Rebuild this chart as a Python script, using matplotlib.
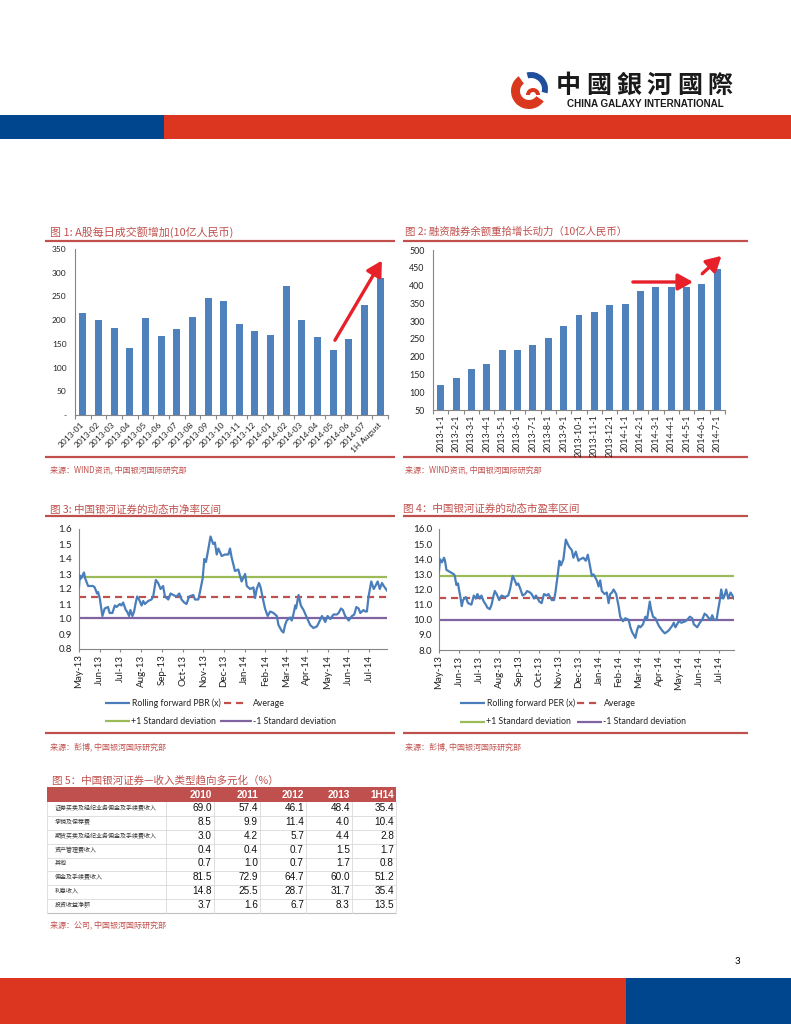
import matplotlib
matplotlib.use('Agg')
import matplotlib.pyplot as plt
import numpy as np
from matplotlib.patches import Rectangle, Wedge
from matplotlib.ticker import FuncFormatter, FormatStrFormatter

plt.rcParams['font.family'] = ['Noto Sans CJK SC', 'DejaVu Sans']

# ---------------- data ----------------
vol_labels = ['2013-01', '2013-02', '2013-03', '2013-04', '2013-05', '2013-06', '2013-07',
              '2013-08', '2013-09', '2013-10', '2013-11', '2013-12', '2014-01', '2014-02',
              '2014-03', '2014-04', '2014-05', '2014-06', '2014-07', '1H August']
vol_values = [215, 201, 184, 142, 204, 166, 181, 206, 246, 241, 191, 178, 169, 273,
              201, 165, 137, 160, 231, 289]

margin_labels = ['2013-1-1', '2013-2-1', '2013-3-1', '2013-4-1', '2013-5-1', '2013-6-1',
                 '2013-7-1', '2013-8-1', '2013-9-1', '2013-10-1', '2013-11-1', '2013-12-1',
                 '2014-1-1', '2014-2-1', '2014-3-1', '2014-4-1', '2014-5-1', '2014-6-1',
                 '2014-7-1']
margin_values = [120, 140, 164, 178, 220, 220, 233, 253, 286, 316, 327, 346,
                 348, 385, 396, 396, 396, 405, 446]

month_labels = ['May-13', 'Jun-13', 'Jul-13', 'Aug-13', 'Sep-13', 'Oct-13', 'Nov-13',
                'Dec-13', 'Jan-14', 'Feb-14', 'Mar-14', 'Apr-14', 'May-14', 'Jun-14', 'Jul-14']

# time in months since 1 May 2013
pbr_t = [0, 0.04, 0.1, 0.24, 0.3, 0.44, 0.68, 0.76, 0.87, 0.92,
         1.0, 1.13, 1.24, 1.40, 1.48, 1.61, 1.73, 1.81, 1.97, 2.05,
         2.13, 2.26, 2.32, 2.42, 2.48, 2.58, 2.66, 2.74, 2.81, 2.90,
         3.02, 3.10, 3.18, 3.34, 3.50, 3.58, 3.71, 3.82, 3.94, 4.06,
         4.15, 4.31, 4.42, 4.55, 4.71, 4.84, 4.95, 5.08, 5.19, 5.32,
         5.52, 5.60, 5.76, 5.84, 5.97, 6.05, 6.13, 6.21, 6.35, 6.48,
         6.56, 6.65, 6.73, 6.89, 7.05, 7.21, 7.29, 7.37, 7.53, 7.69,
         7.85, 8.02, 8.10, 8.26, 8.42, 8.50, 8.58, 8.69, 8.77, 8.87,
         8.98, 9.11, 9.23, 9.39, 9.55, 9.63, 9.79, 9.87, 9.95, 10.03,
         10.19, 10.27, 10.35, 10.44, 10.48, 10.60, 10.71, 10.84, 11.0, 11.16,
         11.32, 11.48, 11.56, 11.73, 11.89, 12.0, 12.13, 12.29, 12.45, 12.53,
         12.65, 12.74, 12.85, 13.02, 13.18, 13.29, 13.39, 13.5, 13.58, 13.74,
         13.82, 13.9, 13.98, 14.11, 14.23, 14.31, 14.42, 14.52, 14.63, 14.71,
         14.87]
pbr_v = [1.21, 1.29, 1.27, 1.31, 1.27, 1.22, 1.22, 1.21, 1.17, 1.18,
         1.14, 1.02, 1.07, 1.08, 1.04, 1.04, 1.09, 1.08, 1.10, 1.09,
         1.11, 1.06, 1.05, 1.02, 1.06, 1.02, 1.05, 1.11, 1.15, 1.13,
         1.09, 1.12, 1.10, 1.12, 1.13, 1.15, 1.26, 1.24, 1.20, 1.22,
         1.15, 1.13, 1.17, 1.16, 1.15, 1.17, 1.13, 1.11, 1.10, 1.15,
         1.16, 1.13, 1.13, 1.18, 1.27, 1.40, 1.38, 1.44, 1.55, 1.50,
         1.51, 1.43, 1.47, 1.42, 1.43, 1.43, 1.47, 1.41, 1.32, 1.33,
         1.25, 1.30, 1.22, 1.20, 1.21, 1.14, 1.20, 1.24, 1.21, 1.14,
         1.07, 1.02, 1.05, 1.04, 1.02, 0.96, 0.92, 0.91, 0.96, 0.99,
         1.01, 0.99, 1.03, 1.09, 1.07, 1.16, 1.09, 1.06, 1.01, 0.96,
         0.94, 0.95, 0.97, 1.02, 0.98, 1.02, 1.00, 1.03, 1.03, 1.04,
         1.07, 1.06, 1.02, 0.99, 1.02, 1.03, 1.08, 1.07, 1.04, 1.06,
         1.05, 1.05, 1.15, 1.25, 1.20, 1.22, 1.25, 1.20, 1.24, 1.22,
         1.19]
pbr_avg, pbr_plus, pbr_minus = 1.145, 1.28, 1.01

per_t = [0, 0.05, 0.15, 0.25, 0.30, 0.37, 0.50, 0.62, 0.75, 0.79,
         0.87, 0.95, 1.00, 1.07, 1.14, 1.20, 1.34, 1.45, 1.62, 1.74,
         1.84, 1.92, 2.04, 2.12, 2.24, 2.34, 2.42, 2.54, 2.63, 2.71,
         2.79, 2.88, 3.01, 3.13, 3.29, 3.46, 3.55, 3.68, 3.76, 3.88,
         3.96, 4.05, 4.18, 4.30, 4.41, 4.55, 4.63, 4.75, 4.85, 5.02,
         5.13, 5.25, 5.38, 5.47, 5.64, 5.75, 5.82, 5.92, 6.02, 6.10,
         6.22, 6.34, 6.44, 6.52, 6.64, 6.72, 6.84, 6.97, 7.06, 7.22,
         7.34, 7.44, 7.53, 7.64, 7.73, 7.89, 7.98, 8.06, 8.14, 8.28,
         8.39, 8.48, 8.56, 8.65, 8.73, 8.86, 8.98, 9.06, 9.20, 9.31,
         9.48, 9.57, 9.65, 9.82, 9.90, 9.98, 10.07, 10.20, 10.32, 10.40,
         10.54, 10.60, 10.70, 10.82, 10.99, 11.15, 11.29, 11.40, 11.49, 11.66,
         11.74, 11.82, 11.99, 12.12, 12.32, 12.41, 12.54, 12.66, 12.74, 12.91,
         13.04, 13.16, 13.28, 13.38, 13.49, 13.58, 13.66, 13.75, 13.88, 13.95,
         14.03, 14.11, 14.21, 14.28, 14.36, 14.46, 14.58, 14.67, 14.75]
per_v = [13.2, 14.0, 13.8, 14.1, 13.9, 13.3, 13.2, 13.1, 13.0, 12.9,
         12.3, 12.4, 12.0, 11.5, 10.9, 11.3, 11.5, 11.1, 11.0, 11.6,
         11.4, 11.7, 11.4, 11.6, 11.2, 11.0, 10.8, 10.7, 11.0, 11.5,
         11.9, 11.7, 11.3, 11.6, 11.5, 11.6, 12.0, 12.9, 12.7, 12.3,
         12.4, 12.1, 11.6, 11.7, 11.9, 11.8, 11.7, 11.4, 11.6, 11.2,
         11.1, 11.7, 11.6, 11.7, 11.3, 11.3, 11.8, 12.8, 13.9, 13.6,
         14.0, 15.3, 15.0, 14.8, 14.6, 14.1, 14.5, 13.9, 14.0, 14.1,
         13.9, 14.3, 13.7, 12.9, 13.0, 12.6, 12.2, 12.6, 11.9, 11.7,
         11.8, 11.1, 11.7, 11.8, 12.0, 11.7, 10.9, 10.2, 9.9, 10.1,
         10.0, 9.5, 9.2, 8.8, 9.3, 9.6, 9.5, 9.7, 10.2, 10.0,
         11.2, 10.7, 10.2, 10.1, 9.6, 9.3, 9.1, 9.2, 9.3, 9.6,
         9.8, 9.5, 9.9, 9.8, 9.9, 10.0, 10.2, 10.1, 9.7, 9.5,
         9.8, 10.0, 10.4, 10.3, 10.1, 10.0, 10.3, 10.0, 10.0, 10.6,
         11.2, 12.0, 11.4, 11.6, 12.0, 11.4, 11.8, 11.6, 11.4]
per_avg, per_plus, per_minus = 11.42, 12.9, 9.98

table_cols = ['2010', '2011', '2012', '2013', '1H14']
table_rows = ['证券买卖及经纪业务佣金及手续费收入', '承销及保荐费', '期货买卖及经纪业务佣金及手续费收入',
              '资产管理费收入', '其他', '佣金及手续费收入', '利息收入', '投资收益净额']
rev_2010 = [69.0, 8.5, 3.0, 0.4, 0.7, 81.5, 14.8, 3.7]
rev_2011 = [57.4, 9.9, 4.2, 0.4, 1.0, 72.9, 25.5, 1.6]
rev_2012 = [46.1, 11.4, 5.7, 0.7, 0.7, 64.7, 28.7, 6.7]
rev_2013 = [48.4, 4.0, 4.4, 1.5, 1.7, 60.0, 31.7, 8.3]
rev_1h14 = [35.4, 10.4, 2.8, 1.7, 0.8, 51.2, 35.4, 13.5]

# ---------------- styles ----------------
W, H = 791, 1024
RED = '#dc3520'
BLUE = '#00468f'
TITLE_C = '#c0504d'
LINE_C = '#c0504d'
BAR_C = '#4f81bd'
AX_C = '#868686'
TXT_C = '#222222'
LAT = ['Lato', 'DejaVu Sans']
CJK = ['Noto Sans CJK SC', 'DejaVu Sans']

fig = plt.figure(figsize=(W / 100, H / 100), dpi=100)
page = fig.add_axes([0, 0, 1, 1])
page.set_xlim(0, W)
page.set_ylim(H, 0)
page.axis('off')


def axpx(l, t, r, b):
    a = fig.add_axes([l / W, 1 - b / H, (r - l) / W, (b - t) / H])
    a.set_facecolor('none')
    return a


def hline(x1, x2, y, color=LINE_C, lw=1.6, **kw):
    page.plot([x1, x2], [y, y], color=color, lw=lw, solid_capstyle='butt', **kw)


# ---------------- header / footer ----------------
page.add_patch(Rectangle((0, 115), 164, 24, color=BLUE, lw=0))
page.add_patch(Rectangle((164, 115), W - 164, 24, color=RED, lw=0))
page.add_patch(Rectangle((0, 978), 626, 46, color=RED, lw=0))
page.add_patch(Rectangle((626, 978), W - 626, 46, color=BLUE, lw=0))
page.text(737, 962, '3', fontsize=7, color='black', ha='center', va='center', family=LAT)

# logo
page.add_patch(Wedge((529, 91), 18, 35, 235, width=9, color='#d9381e', lw=0))
page.add_patch(Wedge((531, 89), 17, 255, 15, width=6, color='#1f4e9c', lw=0))
page.add_patch(Wedge((533, 95), 7, 180, 360, width=4, color='#d9381e', lw=0))
for i, ch in enumerate('中國銀河國際'):
    page.text(568 + i * 30.4, 86, ch, fontsize=18, fontweight='bold', color='#1a1a1a',
              ha='center', va='center', family=['Noto Sans CJK TC', 'DejaVu Sans'])
page.text(645, 104, 'CHINA GALAXY INTERNATIONAL', fontsize=7.1, fontweight='bold',
          color='#1a1a1a', ha='center', va='center', family=['Liberation Sans', 'DejaVu Sans'])

# ---------------- titles and rules ----------------
page.text(50, 232, '图 1: A股每日成交额增加(10亿人民币)', fontsize=7.9, color=TITLE_C, va='center', family=CJK)
page.text(405, 232, '图 2: 融资融券余额重拾增长动力（10亿人民币）', fontsize=7.5, color=TITLE_C, va='center', family=CJK)
page.text(50, 510, '图 3: 中国银河证券的动态市净率区间', fontsize=7.6, color=TITLE_C, va='center', family=CJK)
page.text(403, 509, '图 4：中国银河证券的动态市盈率区间', fontsize=7.6, color=TITLE_C, va='center', family=CJK)
page.text(52, 780, '图 5：中国银河证券—收入类型趋向多元化（%）', fontsize=7.6, color=TITLE_C, va='center', family=CJK)

for y in (241, 457):
    hline(45, 395, y)
    hline(403, 748, y)
for y in (516, 733):
    hline(45, 395, y)
    hline(403, 748, y)

page.text(50, 470, '来源：WIND资讯, 中国银河国际研究部', fontsize=5.8, color=TITLE_C, va='center', family=CJK)
page.text(405, 470, '来源：WIND资讯, 中国银河国际研究部', fontsize=5.8, color=TITLE_C, va='center', family=CJK)
page.text(50, 747, '来源：彭博, 中国银河国际研究部', fontsize=5.8, color=TITLE_C, va='center', family=CJK)
page.text(405, 747, '来源：彭博, 中国银河国际研究部', fontsize=5.8, color=TITLE_C, va='center', family=CJK)
page.text(50, 925, '来源：公司, 中国银河国际研究部', fontsize=5.8, color=TITLE_C, va='center', family=CJK)


def style_axes(a):
    for s in ('top', 'right'):
        a.spines[s].set_visible(False)
    for s in ('left', 'bottom'):
        a.spines[s].set_color(AX_C)
        a.spines[s].set_linewidth(0.8)


# ---------------- chart 1 ----------------
ax1 = axpx(75, 249, 388, 415)
x1 = np.arange(len(vol_values))
ax1.bar(x1, vol_values, width=0.45, color=BAR_C, zorder=3)
ax1.set_xlim(-0.5, len(vol_values) - 0.5)
ax1.set_ylim(0, 350)
ax1.set_yticks(np.arange(0, 351, 50))
ax1.yaxis.set_major_formatter(FuncFormatter(lambda v, p: '-' if v == 0 else f'{int(v)}'))
ax1.set_xticks(x1)
ax1.set_xticklabels(vol_labels, rotation=45, ha='right', va='center', rotation_mode='anchor')
ax1.set_xticks(np.arange(-0.5, len(vol_values), 1), minor=True)
ax1.tick_params(axis='x', which='major', length=0, pad=6)
ax1.tick_params(axis='x', which='minor', length=3, color=AX_C, width=0.8)
ax1.tick_params(axis='y', length=0, pad=6)
for lab in ax1.get_xticklabels() + ax1.get_yticklabels():
    lab.set_fontsize(6.0)
    lab.set_family(LAT)
    lab.set_color(TXT_C)
style_axes(ax1)
ax1.annotate('', xy=(0.985, 0.945), xytext=(0.826, 0.436), xycoords='axes fraction',
             arrowprops=dict(arrowstyle='-|>,head_length=0.9,head_width=0.5', color='#e8202a', lw=2.4))

# ---------------- chart 2 ----------------
ax2 = axpx(433, 250, 725, 410)
x2 = np.arange(len(margin_values))
ax2.bar(x2, margin_values, width=0.45, color=BAR_C, zorder=3)
ax2.set_xlim(-0.5, len(margin_values) - 0.5)
ax2.set_ylim(50, 500)
ax2.set_yticks(np.arange(50, 501, 50))
ax2.set_xticks(x2)
ax2.set_xticklabels(margin_labels, rotation=90, ha='center', va='top')
ax2.set_xticks(np.arange(-0.5, len(margin_values), 1), minor=True)
ax2.tick_params(axis='x', which='major', length=0, pad=3)
ax2.tick_params(axis='x', which='minor', length=3, color=AX_C, width=0.8)
ax2.tick_params(axis='y', length=0, pad=6)
for lab in ax2.get_xticklabels() + ax2.get_yticklabels():
    lab.set_fontsize(6.4)
    lab.set_family(LAT)
    lab.set_color(TXT_C)
style_axes(ax2)
ax2.annotate('', xy=(0.90, 0.80), xytext=(0.675, 0.80), xycoords='axes fraction',
             arrowprops=dict(arrowstyle='-|>,head_length=0.9,head_width=0.5', color='#e8202a', lw=2.4))
ax2.annotate('', xy=(0.995, 0.975), xytext=(0.915, 0.84), xycoords='axes fraction',
             arrowprops=dict(arrowstyle='-|>,head_length=0.9,head_width=0.5', color='#e8202a', lw=2.4))


# ---------------- line charts ----------------
def line_chart(a, t, v, avg, plus, minus, ylo, yhi, step):
    n = min(len(t), len(v))
    a.axhline(plus, color='#9bbb59', lw=1.6, zorder=2)
    a.axhline(minus, color='#8064a2', lw=1.6, zorder=2)
    a.axhline(avg, color='#c0504d', lw=1.6, ls=(0, (3.2, 2.2)), zorder=2)
    a.plot(t[:n], v[:n], color='#4a7ebb', lw=1.6, zorder=3, solid_joinstyle='round')
    a.set_xlim(0, t[n - 1])
    a.set_ylim(ylo, yhi)
    a.set_yticks(np.arange(ylo, yhi + step / 2, step))
    a.yaxis.set_major_formatter(FormatStrFormatter('%.1f'))
    a.set_xticks(np.arange(len(month_labels)))
    a.set_xticklabels(month_labels, rotation=90, ha='center', va='top')
    a.tick_params(axis='x', length=2, color=AX_C, width=0.8, pad=2)
    a.tick_params(axis='y', length=0, pad=5)
    for lab in a.get_xticklabels() + a.get_yticklabels():
        lab.set_fontsize(7.0)
        lab.set_family(LAT)
        lab.set_color(TXT_C)
    style_axes(a)


ax3 = axpx(79, 529, 387, 649)
line_chart(ax3, pbr_t, pbr_v, pbr_avg, pbr_plus, pbr_minus, 0.8, 1.6, 0.1)
ax4 = axpx(439, 529, 734, 650)
line_chart(ax4, per_t, per_v, per_avg, per_plus, per_minus, 8.0, 16.0, 1.0)


def legend_rows(x_line, x_text, x_line2, x_text2, y1, y2, name):
    kw = dict(fontsize=6.3, color=TXT_C, va='center', family=LAT)
    page.plot(x_line, [y1, y1], color='#4a7ebb', lw=1.6, solid_capstyle='butt')
    page.text(x_text, y1, name, **kw)
    page.plot(x_line2[0], [y1, y1], color='#c0504d', lw=1.6, ls=(0, (3.2, 2.2)))
    page.text(x_text2[0], y1, 'Average', **kw)
    page.plot(x_line, [y2, y2], color='#9bbb59', lw=1.6, solid_capstyle='butt')
    page.text(x_text - 1, y2, '+1 Standard deviation', **kw)
    page.plot(x_line2[1], [y2, y2], color='#8064a2', lw=1.6, solid_capstyle='butt')
    page.text(x_text2[1], y2, '-1 Standard deviation', **kw)


legend_rows([105, 130], 132, ([224, 248], [220, 252]), (253, 253), 703, 721, 'Rolling forward PBR (x)')
legend_rows([460, 485], 487, ([577, 600], [577, 602]), (604, 603), 703, 722, 'Rolling forward PER (x)')

# ---------------- table ----------------
tl, tr, ttop, thb, tbot = 47, 396, 787, 802, 913
page.add_patch(Rectangle((tl, ttop), tr - tl, thb - ttop, color='#c0504d', lw=0))
col_right = [212, 258, 304, 350, 394]
col_lines = [166, 214, 260, 306, 352, 396]
row_h = (tbot - thb) / len(table_rows)
for c, xr in zip(table_cols, col_right):
    page.text(xr, (ttop + thb) / 2 + 0.5, c, fontsize=7.2, fontweight='bold', color='white',
              ha='right', va='center', family=['Liberation Sans', 'DejaVu Sans'])
for i in range(1, len(table_rows)):
    hline(tl, tr, thb + i * row_h, color='#d9d9d9', lw=0.6)
hline(tl, tr, tbot, color='#bfbfbf', lw=0.8)
page.plot([tl, tl], [thb, tbot], color='#d9d9d9', lw=0.6)
for xl in col_lines:
    page.plot([xl, xl], [thb, tbot], color='#d9d9d9', lw=0.6)
cols = [rev_2010, rev_2011, rev_2012, rev_2013, rev_1h14]
for i, name in enumerate(table_rows):
    yc = thb + (i + 0.5) * row_h - 1
    page.text(55, yc, name, fontsize=4.3, color='#333333', va='center', family=CJK)
    for vals, xr in zip(cols, col_right):
        page.text(xr, yc, f'{vals[i]:.1f}', fontsize=7.2, color='#111111', ha='right', va='center',
                  family=['Liberation Sans', 'DejaVu Sans'])

fig.savefig('out.png', dpi=100)
